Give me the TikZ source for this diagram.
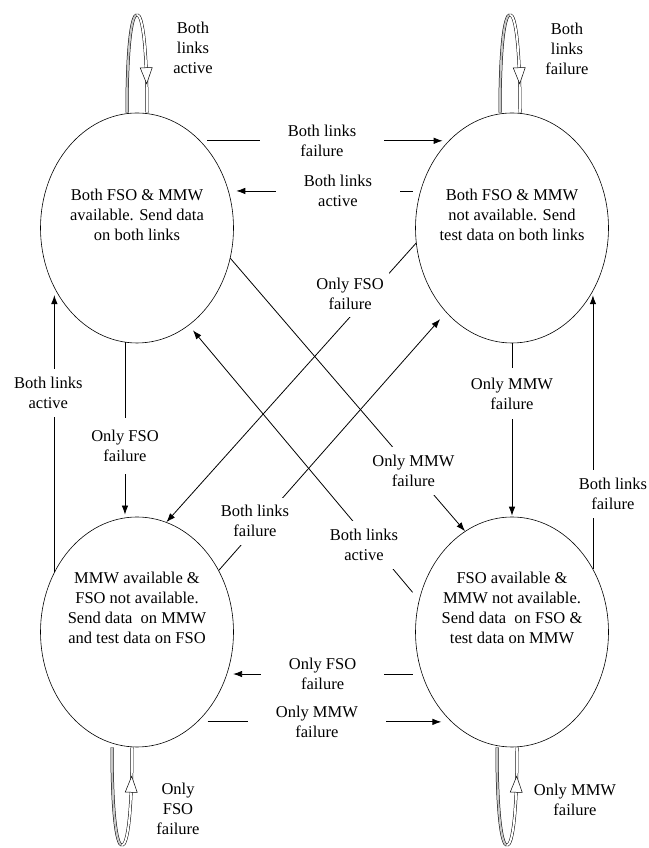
\documentclass[tikz,border=0pt]{standalone}
\usepackage{fontspec}
\setmainfont{Liberation Serif}
\usetikzlibrary{arrows.meta, shapes.geometric, calc, decorations.markings}
\newcommand{\lblfont}{\fontsize{16.5}{20}\selectfont}

\begin{document}
\begin{tikzpicture}[
  x=1pt, y=1pt,
  linkstate/.style={draw, ellipse, line width=0.6pt, minimum width=193pt,
                    minimum height=230pt, inner sep=0pt},
  statetxt/.style={align=center, font=\lblfont},
  lbl/.style={fill=white, align=center, font=\lblfont, inner xsep=5pt,
              inner ysep=8pt},
  hlbl/.style={lbl, inner xsep=28pt, inner ysep=2pt},
  trans/.style={draw, line width=0.8pt, -{Latex[length=9pt, width=6.5pt]}},
  loopside/.style={line width=0.5pt, double distance=2pt},
  loophead/.style={decorate, decoration={markings,
    mark=at position #1 with {\draw[fill=white, line width=0.5pt]
      (3pt,0) -- (-13pt,6pt) -- (-13pt,-6pt) -- cycle;}}}
]
  \useasboundingbox (0,0) rectangle (648,848);

  % Link states
  \node[linkstate] (tl) at (137,620) {};
  \node[linkstate] (tr) at (512,620) {};
  \node[linkstate] (bl) at (137,216) {};
  \node[linkstate] (br) at (512,216) {};

  \node[statetxt] (tl-txt) at ([yshift=13]tl.center)
    {Both FSO \& MMW\\available. Send data\\on both links};
  \node[statetxt] (tr-txt) at ([yshift=13]tr.center)
    {Both FSO \& MMW\\not available. Send\\test data on both links};
  \node[statetxt] (bl-txt) at ([yshift=24]bl.center)
    {MMW available \&\\FSO not available.\\Send data~ on MMW\\and test data on FSO};
  \node[statetxt] (br-txt) at ([yshift=24]br.center)
    {FSO available \&\\MMW not available.\\Send data~ on FSO \&\\test data on MMW};

  % Self loops
  \foreach \nd/\anc/\dx/\sg in {tl/north/0/1, tr/north/-2/1, bl/south/-15/-1, br/south/-5/-1} {
    \draw[loopside, double=gray!45] ($(\nd.\anc)+(\dx-10,0)$)
      .. controls +(0,62*\sg) and +(-6,0) .. ($(\nd.\anc)+(\dx,98*\sg)$);
    \draw[loopside, double=white] ($(\nd.\anc)+(\dx,98*\sg)$)
      .. controls +(6,0) and +(0,62*\sg) .. ($(\nd.\anc)+(\dx+10,0)$);
    \path[loophead=0.68] ($(\nd.\anc)+(\dx,98*\sg)$)
      .. controls +(6,0) and +(0,62*\sg) .. ($(\nd.\anc)+(\dx+10,0)$);
  }
  \node[statetxt] (tl-loop) at ($(tl.north)+(56,65)$) {Both\\links\\active};
  \node[statetxt] (tr-loop) at ($(tr.north)+(55,64)$) {Both\\links\\failure};
  \node[statetxt] (bl-loop) at ($(bl.south)+(41,-62)$) {Only\\FSO\\failure};
  \node[statetxt] (br-loop) at ($(br.south)+(63,-53)$) {Only MMW\\failure};

  % Top row
  \draw[trans, shorten <=7pt, shorten >=6pt] (tl.54) -- (tr.126)
    node[hlbl, pos=.49] {Both links\\failure};
  \draw[trans, shorten <=7.6pt, shorten >=7.6pt] (tr.158) -- (tl.22)
    node[hlbl, pos=.43] {Both links\\active};

  % Bottom row
  \draw[trans, shorten <=9pt, shorten >=6pt] (br.205) -- (bl.335)
    node[hlbl, pos=.51] {Only FSO\\failure};
  \draw[trans, shorten <=10pt, shorten >=10pt] (bl.304) -- (br.236)
    node[hlbl, pos=.47] {Only MMW\\failure};

  % Columns
  \draw[trans, shorten >=7pt] (bl.144) -- (tl.216)
    node[lbl, pos=.63, xshift=-6] {Both links\\active};
  \draw[trans, shorten >=3pt] (tl.264) -- (bl.96)
    node[lbl, pos=.59, inner ysep=12pt] {Only FSO\\failure};
  \draw[trans, shorten >=1pt] (tr.south) -- (br.north)
    node[lbl, pos=.29, inner ysep=10pt] {Only MMW\\failure};
  \draw[trans, shorten >=4pt] (br.38) -- (tr.322)
    node[lbl, pos=.27, xshift=20] {Both links\\failure};

  % Diagonals
  \draw[trans] (tl.342) -- (br.115)
    node[lbl, pos=.78] {Only MMW\\failure};
  \draw[trans, shorten <=10pt, shorten >=6.5pt] (br.161) -- (tl.298)
    node[lbl, pos=.2, xshift=-9] {Both links\\active};
  \draw[trans] (tr.189) -- (bl.75)
    node[lbl, pos=.18, xshift=-21] {Only FSO\\failure};
  \draw[trans, shorten >=9pt] (bl.37) -- (tr.232)
    node[lbl, pos=.19, xshift=-7] {Both links\\failure};
\end{tikzpicture}
\end{document}
